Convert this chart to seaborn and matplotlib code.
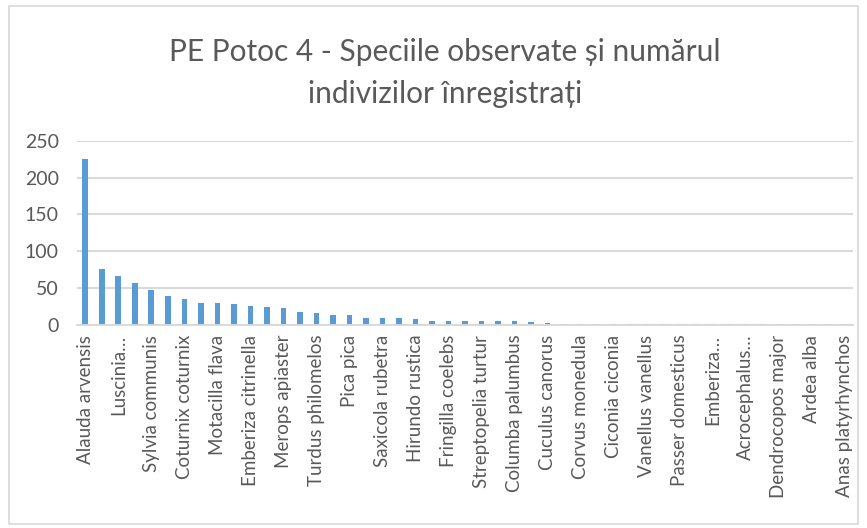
import matplotlib
matplotlib.use("Agg")
import matplotlib.pyplot as plt
import seaborn as sns
import pandas as pd
from matplotlib.patches import Rectangle

# Counts per species, sorted descending (47 species)
counts = [225, 76, 66, 57, 47, 39, 35, 30, 30, 28,
          26, 24, 23, 18, 16, 14, 14, 10, 10, 9,
          8, 6, 6, 6, 6, 6, 6, 4, 3, 2,
          2, 2, 2, 2, 1, 1, 1, 1, 1, 1,
          1, 1, 1, 1, 1, 1, 1]

# Labels shown on the category axis (every second species)
shown_labels = ["Alauda arvensis", "Luscinia…", "Sylvia communis", "Coturnix coturnix",
                "Motacilla flava", "Emberiza citrinella", "Merops apiaster",
                "Turdus philomelos", "Pica pica", "Saxicola rubetra", "Hirundo rustica",
                "Fringilla coelebs", "Streptopelia turtur", "Columba palumbus",
                "Cuculus canorus", "Corvus monedula", "Ciconia ciconia",
                "Vanellus vanellus", "Passer domesticus", "Emberiza…", "Acrocephalus…",
                "Dendrocopos major", "Ardea alba", "Anas platyrhynchos"]

title = "PE Potoc 4 - Speciile observate și numărul\nindivizilor înregistrați"

sns.set_theme(style="white")
plt.rcParams["font.family"] = ["Lato", "DejaVu Sans"]

W, H = 867, 528
fig = plt.figure(figsize=(W / 100, H / 100), dpi=100)
ax = fig.add_axes([77 / W, 1 - 325 / H, (853 - 77) / W, (325 - 140.7) / H])

df = pd.DataFrame({"pos": list(range(len(counts))), "n": counts})
sns.barplot(data=df, x="pos", y="n", color="#5b9bd5", saturation=1,
            width=0.34, linewidth=0, ax=ax, zorder=2)

ax.set_xlim(-0.5, len(counts) - 0.5)
ax.set_ylim(0, 250)
ax.set_yticks(range(0, 251, 50))
ax.yaxis.grid(True, color="#d9d9d9", linewidth=1.5, zorder=0)
ax.set_axisbelow(True)
ax.set_xlabel("")
ax.set_ylabel("")

ax.set_xticks(range(0, len(counts), 2))
ax.set_xticklabels(shown_labels, rotation=90, ha="center", va="top")
ax.tick_params(axis="x", length=0, pad=7, labelsize=13.5, labelcolor="#595959")
ax.tick_params(axis="y", length=0, pad=13, labelsize=14, labelcolor="#595959")

for side in ["left", "right", "top"]:
    ax.spines[side].set_visible(False)
ax.spines["bottom"].set_color("#d9d9d9")
ax.spines["bottom"].set_linewidth(1.35)
ax.spines["bottom"].set_zorder(3)

fig.text(445 / W, 1 - 73 / H, title, ha="center", va="center",
         fontsize=21.5, color="#595959", linespacing=1.6)

# Chart border
fig.patches.append(Rectangle((9 / W, 4 / H), (858 - 9) / W, (522 - 4) / H,
                             transform=fig.transFigure, fill=False,
                             edgecolor="#d9d9d9", linewidth=1.2))

fig.savefig("out.png", dpi=100)
